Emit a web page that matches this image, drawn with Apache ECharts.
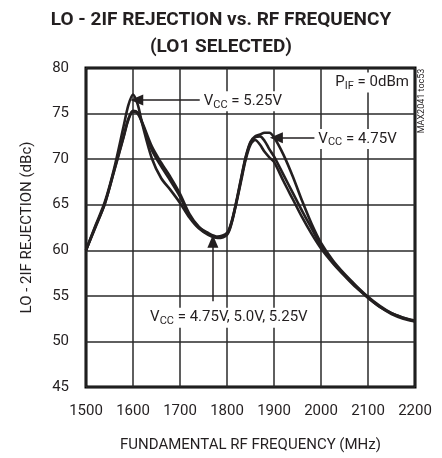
<!DOCTYPE html>
<html>
<head>
<meta charset="utf-8">
<script src="https://cdn.jsdelivr.net/npm/echarts@6/dist/echarts.min.js"></script>
<style>
  html, body { margin: 0; padding: 0; background: #fff; }
  #chart { width: 442px; height: 458px; }
</style>
</head>
<body>
<div id="chart"></div>
<script>
// Sweep frequencies (MHz) shared by the three supply-voltage curves
const freqMHz = [1500, 1520, 1540, 1560, 1580, 1590, 1600, 1610, 1620, 1640, 1660, 1680,
  1700, 1720, 1740, 1760, 1780, 1800, 1810, 1820, 1830, 1840, 1850, 1860, 1870, 1880,
  1890, 1900, 1920, 1940, 1960, 1980, 2000, 2025, 2050, 2075, 2100, 2125, 2150, 2175, 2200];

// LO - 2IF rejection (dBc) at each frequency
const rej525 = [60, 62.7, 65.3, 69.0, 73.6, 75.9, 77.1, 76.0, 73.8, 70.1, 67.9, 66.6,
  65.2, 63.6, 62.4, 61.7, 61.35, 61.7, 63.0, 65.2, 67.6, 70.0, 71.6, 72.1, 71.6, 70.8,
  70.2, 69.7, 67.6, 65.6, 63.6, 61.8, 60.2, 58.6, 57.2, 55.9, 54.8, 53.8, 53.1, 52.6, 52.3];
const rej500 = [60, 62.5, 65.1, 68.7, 72.4, 74.3, 75.2, 75.0, 73.9, 71.0, 69.2, 67.6,
  65.9, 63.8, 62.5, 61.8, 61.4, 61.8, 63.1, 65.3, 67.8, 70.2, 71.8, 72.4, 72.5, 72.0,
  71.1, 70.3, 68.3, 66.3, 64.3, 62.4, 60.5, 58.7, 57.3, 56.0, 54.8, 53.8, 53.0, 52.5, 52.2];
const rej475 = [60, 62.6, 65.1, 68.8, 72.5, 74.4, 75.3, 75.1, 74.0, 71.4, 69.6, 68.0,
  66.2, 64.0, 62.6, 61.9, 61.5, 61.9, 63.2, 65.4, 67.9, 70.3, 71.9, 72.5, 72.7, 72.9,
  72.9, 72.4, 70.5, 68.1, 65.4, 62.9, 60.8, 58.9, 57.4, 56.1, 54.9, 53.9, 53.1, 52.6, 52.2];

const xTicks = { min: 1500, max: 2200, step: 100 };
const yTicks = { min: 45, max: 80, step: 5 };

const FONT = "'Roboto', 'Liberation Sans', sans-serif";
const INK = '#231f20';

const pairs = (ys) => freqMHz.map((f, i) => [f, ys[i]]);

const curveStyle = { color: INK, width: 2.6 };
function curve(name, ys) {
  return {
    name, type: 'line', data: pairs(ys), smooth: 0.3, showSymbol: false,
    lineStyle: curveStyle, itemStyle: { color: INK }, z: 3, animation: false
  };
}

const subRich = {
  m: { fontFamily: FONT, fontSize: 15, color: INK },
  s: { fontFamily: FONT, fontSize: 11, color: INK, verticalAlign: 'bottom', padding: [7, 0, 0, 0] }
};

function note(coord, text, align) {
  return {
    coord, symbol: 'circle', symbolSize: 0,
    label: {
      show: true, position: 'inside', align: align || 'left', verticalAlign: 'middle',
      formatter: text, rich: subRich, backgroundColor: '#fff', padding: [1, 3, 1, 3]
    }
  };
}

const arrowStyle = { color: INK, width: 1.5, type: 'solid' };
function arrow(from, to) {
  return [{ coord: from, symbol: 'none' }, { coord: to, symbol: 'triangle' }];
}

const chart = echarts.init(document.getElementById('chart'), null, { renderer: 'canvas' });
chart.setOption({
  animation: false,
  title: {
    text: 'LO - 2IF REJECTION vs. RF FREQUENCY\n(LO1 SELECTED)',
    left: 'center', top: 2,
    textStyle: { fontFamily: FONT, fontWeight: 'bold', fontSize: 19, color: INK, lineHeight: 27 }
  },
  grid: { left: 86, right: 27, top: 68, bottom: 63, show: true, borderColor: '#000', borderWidth: 3, backgroundColor: '#fff' },
  xAxis: {
    type: 'value', min: xTicks.min, max: xTicks.max, interval: xTicks.step,
    name: 'FUNDAMENTAL RF FREQUENCY (MHz)', nameLocation: 'middle', nameGap: 51,
    nameTextStyle: { fontFamily: FONT, fontSize: 15, color: INK },
    axisLine: { show: false }, axisTick: { show: false },
    axisLabel: { fontFamily: FONT, fontSize: 15, color: INK, margin: 17, formatter: (v) => String(v) },
    splitLine: { show: true, lineStyle: { color: '#2a2a2a', width: 1.5 } }
  },
  yAxis: {
    type: 'value', min: yTicks.min, max: yTicks.max, interval: yTicks.step,
    name: 'LO - 2IF REJECTION (dBc)', nameLocation: 'middle', nameGap: 51, nameRotate: 90,
    nameTextStyle: { fontFamily: FONT, fontSize: 15, color: INK },
    axisLine: { show: false }, axisTick: { show: false },
    axisLabel: { fontFamily: FONT, fontSize: 15, color: INK, margin: 17 },
    splitLine: { show: true, lineStyle: { color: '#2a2a2a', width: 1.5 } }
  },
  series: [
    curve('VCC = 4.75V', rej475),
    curve('VCC = 5.0V', rej500),
    curve('VCC = 5.25V', rej525),
    {
      // callout arrows and labels
      type: 'line', data: [], z: 5, animation: false,
      markLine: {
        silent: true, symbolSize: [11, 13], lineStyle: arrowStyle, label: { show: false },
        data: [
          arrow([1742, 76.5], [1608, 76.5]),
          arrow([1986, 72.35], [1905, 72.35]),
          arrow([1770, 54.4], [1770, 61.0])
        ]
      },
      markPoint: {
        silent: true,
        data: [
          note([1744, 76.35], '{m|V}{s|CC}{m| = 5.25V}'),
          note([1988, 72.2], '{m|V}{s|CC}{m| = 4.75V}'),
          note([1630, 52.6], '{m|V}{s|CC}{m| = 4.75V, 5.0V, 5.25V}'),
          note([2024, 78.4], '{m|P}{s|IF}{m| = 0dBm}')
        ]
      }
    }
  ],
  graphic: [{
    type: 'text', x: 422, y: 101, rotation: Math.PI / 2,
    style: { text: 'MAX2041 toc53', fontFamily: FONT, fontSize: 9, fill: INK, align: 'center', verticalAlign: 'middle' }
  }]
});
</script>
</body>
</html>
